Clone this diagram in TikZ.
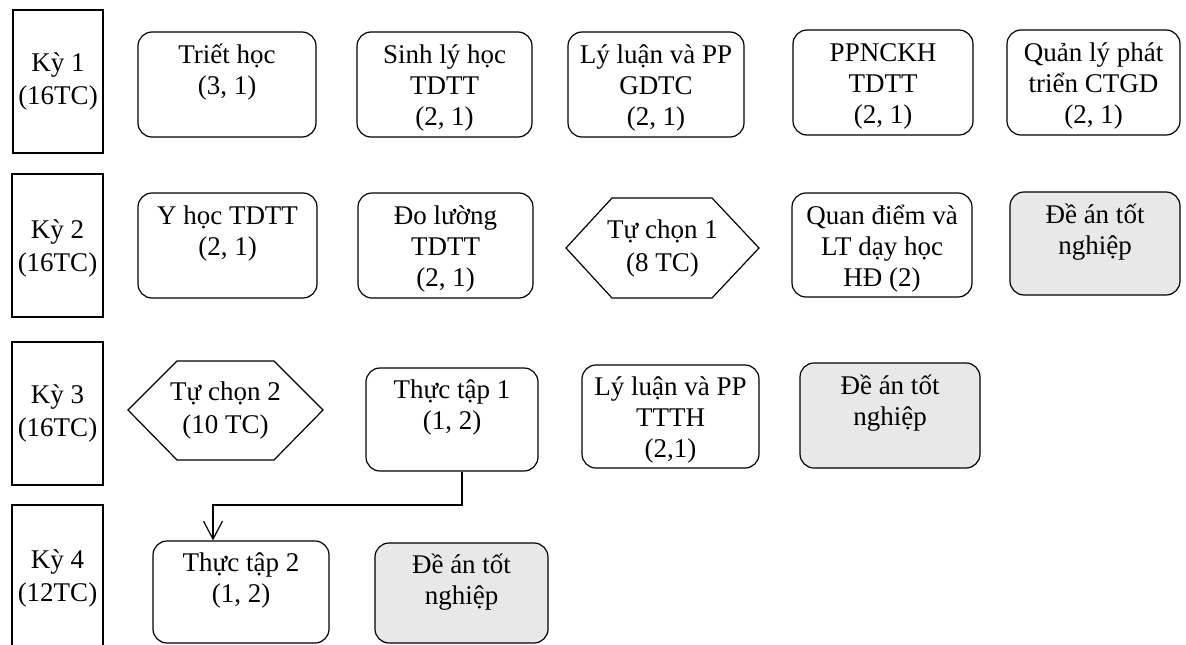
\documentclass[tikz,border=0pt]{standalone}
\usepackage{fontspec}
\setmainfont{Liberation Serif}
\usetikzlibrary{arrows.meta,fit}
\newcommand\fs{\rule{0pt}{24pt}}
\begin{document}
\begin{tikzpicture}[x=1pt,y=-1pt,
  line width=1.2pt,
  rbox/.style={draw=black, rounded corners=14pt, inner sep=0pt},
  grbox/.style={rbox, fill=black!9},
  kybox/.style={draw=black, inner sep=0pt},
  txt/.style={inner sep=0pt, align=center, anchor=north, font=\fontsize{27}{31}\selectfont},
  ctxt/.style={inner sep=0pt, align=center, font=\fontsize{27}{33}\selectfont},
  hexline/.style={draw=black, line join=miter},
  arr/.style={draw=black, -{Straight Barb[length=18pt,width=19pt,line width=1.2pt]}}
]
\useasboundingbox (0,0) rectangle (1186,645);

% semester boxes
\node[kybox, fit={(13,10) (103,153)}] (k1) {};
\node[ctxt] (k1t) at (k1.center) {Kỳ 1\\(16TC)};
\node[kybox, fit={(12,174) (103,317)}] (k2) {};
\node[ctxt] (k2t) at ([yshift=-3pt]k2.center) {Kỳ 2\\(16TC)};
\node[kybox, fit={(12,342) (103,485)}] (k3) {};
\node[ctxt] (k3t) at (k3.center) {Kỳ 3\\(16TC)};
\node[kybox, fit={(12,505) (103,700)}] (k4) {};
\node[ctxt] (k4t) at (57.5,578) {Kỳ 4\\(12TC)};

% row 1
\node[rbox, fit={(138,32) (316,137)}] (b11) {};
\node[txt] (t11) at ([yshift=-7pt]b11.north) {\fs Triết học\\(3, 1)};
\node[rbox, fit={(357,32) (532,137)}] (b12) {};
\node[txt] (t12) at ([yshift=-7pt]b12.north) {\fs Sinh lý học\\TDTT\\(2, 1)};
\node[rbox, fit={(568,32) (744,137)}] (b13) {};
\node[txt] (t13) at ([yshift=-7pt]b13.north) {\fs Lý luận và PP\\GDTC\\(2, 1)};
\node[rbox, fit={(793,30) (973,135)}] (b14) {};
\node[txt] (t14) at ([yshift=-7pt]b14.north) {\fs PPNCKH\\TDTT\\(2, 1)};
\node[rbox, fit={(1007,30) (1180,135)}] (b15) {};
\node[txt] (t15) at ([yshift=-7pt]b15.north) {\fs Quản lý phát\\triển CTGD\\(2, 1)};

% row 2
\node[rbox, fit={(138,193) (317,298)}] (b21) {};
\node[txt] (t21) at ([yshift=-7pt]b21.north) {\fs Y học TDTT\\(2, 1)};
\node[rbox, fit={(358,193) (533,298)}] (b22) {};
\node[txt] (t22) at ([yshift=-7pt]b22.north) {\fs Đo lường\\TDTT\\(2, 1)};
\draw[hexline] (566,248) -- (612,198) -- (712,198) -- (759,248) -- (712,298) -- (612,298) -- cycle;
\node[ctxt] (h1) at (662.5,249) {Tự chọn 1\\(8 TC)};
\node[rbox, fit={(792,193) (972,297)}] (b24) {};
\node[txt] (t24) at ([yshift=-7pt]b24.north) {\fs Quan điểm và\\LT dạy học\\HĐ (2)};
\node[grbox, fit={(1010,192) (1180,295)}] (b25) {};
\node[txt] (t25) at ([yshift=-7pt]b25.north) {\fs Đề án tốt\\nghiệp};

% row 3
\draw[hexline] (128,410) -- (177,361) -- (274,361) -- (323,410) -- (274,460) -- (177,460) -- cycle;
\node[ctxt] (h2) at (225.5,411) {Tự chọn 2\\(10 TC)};
\node[rbox, fit={(366,368) (538,471)}] (tt1) {};
\node[txt] (t32) at ([yshift=-6pt]tt1.north) {\fs Thực tập 1\\(1, 2)};
\node[rbox, fit={(582,365) (759,468)}] (b33) {};
\node[txt] (t33) at ([yshift=-6pt]b33.north) {\fs Lý luận và PP\\TTTH\\(2,1)};
\node[grbox, fit={(800,363) (980,468)}] (b34) {};
\node[txt] (t34) at ([yshift=-7pt]b34.north) {\fs Đề án tốt\\nghiệp};

% row 4
\node[rbox, fit={(153,541) (329,643)}] (tt2) {};
\node[txt] (t41) at ([yshift=-6pt]tt2.north) {\fs Thực tập 2\\(1, 2)};
\node[grbox, fit={(375,543) (548,643)}] (b42) {};
\node[txt] (t42) at ([yshift=-6pt]b42.north) {\fs Đề án tốt\\nghiệp};

% connector
\coordinate (c1) at (462,505);
\coordinate (c2) at (213,505);
\draw[arr] (tt1.south -| c1) -- (c1) -- (c2) -- (tt2.north -| c2);
\end{tikzpicture}
\end{document}
